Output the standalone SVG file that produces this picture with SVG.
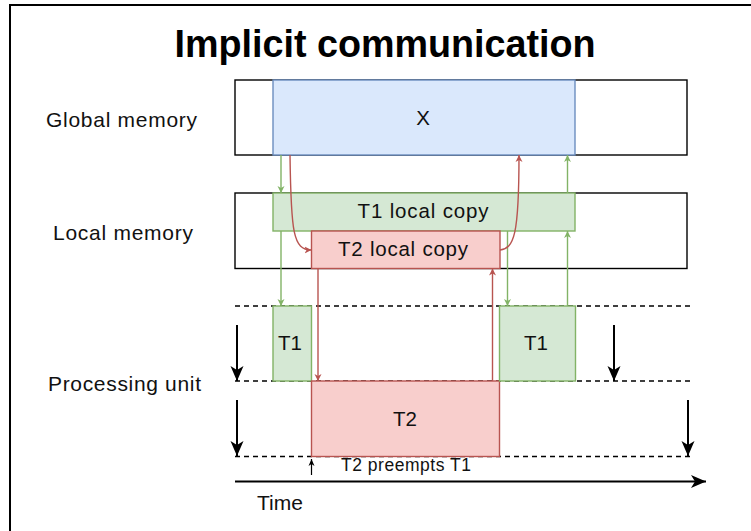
<svg xmlns="http://www.w3.org/2000/svg" width="751" height="531" viewBox="0 0 751 531">
  <style>
    text { font-family: "Liberation Sans", Arial, sans-serif; fill: #111; }
    .title { font-size: 38px; font-weight: bold; text-anchor: middle; fill: #000; }
    .side { font-size: 21px; }
    .box-label { font-size: 20.5px; text-anchor: middle; }
    .note { font-size: 17.5px; }
    .frame { fill: none; stroke: #000; stroke-width: 1.4; }
    .mem { fill: #dae8fc; stroke: #6c8ebf; stroke-width: 1.4; }
    .green { fill: #d5e8d4; stroke: #82b366; stroke-width: 1.4; }
    .red { fill: #f8cecc; stroke: #b85450; stroke-width: 1.4; }
    .lane { stroke: #000; stroke-width: 1.3; stroke-dasharray: 5 4; fill: none; }
    .g-edge { stroke: #82b366; stroke-width: 1.4; fill: none; marker-end: url(#head-green); }
    .r-edge { stroke: #b85450; stroke-width: 1.4; fill: none; marker-end: url(#head-red); }
    .k-edge { stroke: #000; stroke-width: 2; fill: none; marker-end: url(#head-black); }
    .k-thin { stroke: #000; stroke-width: 1.2; fill: none; marker-end: url(#head-black-small); }
  </style>
  <defs>
    <marker id="head-green" markerUnits="userSpaceOnUse" markerWidth="8" markerHeight="8" viewBox="0 0 8 8" refX="7" refY="4" orient="auto">
      <path d="M7,4 L0,0.5 L2,4 L0,7.5 Z" fill="#82b366"/>
    </marker>
    <marker id="head-red" markerUnits="userSpaceOnUse" markerWidth="8" markerHeight="8" viewBox="0 0 8 8" refX="7" refY="4" orient="auto">
      <path d="M7,4 L0,0.5 L2,4 L0,7.5 Z" fill="#b85450"/>
    </marker>
    <marker id="head-black" markerUnits="userSpaceOnUse" markerWidth="16" markerHeight="14" viewBox="0 0 16 14" refX="15" refY="7" orient="auto">
      <path d="M15,7 L0,0.5 L4,7 L0,13.5 Z" fill="#000"/>
    </marker>
    <marker id="head-black-small" markerUnits="userSpaceOnUse" markerWidth="8" markerHeight="8" viewBox="0 0 8 8" refX="7" refY="4" orient="auto">
      <path d="M7,4 L0,1 L2,4 L0,7 Z" fill="#000"/>
    </marker>
  </defs>

  <rect x="0" y="0" width="751" height="531" fill="#fff"/>
  <!-- outer frame -->
  <rect x="10" y="5" width="800" height="600" fill="none" stroke="#000" stroke-width="2"/>

  <g id="title">
    <text class="title" x="385" y="57" textLength="421" lengthAdjust="spacingAndGlyphs">Implicit communication</text>
  </g>

  <g id="row-labels">
    <text class="side" x="46" y="127" textLength="151" lengthAdjust="spacing">Global memory</text>
    <text class="side" x="53" y="240" textLength="140" lengthAdjust="spacing">Local memory</text>
    <text class="side" x="48" y="391" textLength="153" lengthAdjust="spacing">Processing unit</text>
  </g>

  <g id="global-memory">
    <rect class="frame" x="235" y="80" width="452" height="75"/>
  </g>
  <g id="shared-x">
    <rect class="mem" x="273" y="80" width="302" height="75"/>
    <text class="box-label" x="423" y="125">X</text>
  </g>

  <g id="local-memory">
    <rect class="frame" x="235" y="193" width="452" height="75.5"/>
  </g>
  <g id="t1-local-copy">
    <rect class="green" x="273" y="193" width="302" height="38"/>
    <text class="box-label" x="423" y="218" textLength="131" lengthAdjust="spacing">T1 local copy</text>
  </g>
  <g id="t2-local-copy">
    <rect class="red" x="311.5" y="231" width="188.5" height="37.5"/>
    <text class="box-label" x="403" y="256" textLength="130" lengthAdjust="spacing">T2 local copy</text>
  </g>

  <g id="lanes">
    <line class="lane" x1="235" y1="306" x2="694" y2="306"/>
    <line class="lane" x1="235" y1="381" x2="694" y2="381"/>
    <line class="lane" x1="235" y1="456.5" x2="694" y2="456.5"/>
  </g>

  <g id="t1-run-1">
    <rect class="green" x="273" y="306" width="38.5" height="75"/>
    <text class="box-label" x="290" y="350">T1</text>
  </g>
  <g id="t2-run">
    <rect class="red" x="311.5" y="381" width="188" height="75.5"/>
    <text class="box-label" x="405" y="426">T2</text>
  </g>
  <g id="t1-run-2">
    <rect class="green" x="499.5" y="306" width="76" height="75"/>
    <text class="box-label" x="536" y="350">T1</text>
  </g>

  <g id="timeline">
    <line class="k-edge" x1="235" y1="481.5" x2="706" y2="481.5"/>
    <text class="side" x="257" y="510">Time</text>
    <line class="k-thin" x1="311.5" y1="475" x2="311.5" y2="459"/>
    <text class="note" x="341" y="471" textLength="130" lengthAdjust="spacing">T2 preempts T1</text>
  </g>

  <g id="connectors">
    <!-- period markers -->
    <line class="k-edge" x1="237" y1="325" x2="237" y2="381"/>
    <line class="k-edge" x1="237" y1="400" x2="237" y2="456"/>
    <line class="k-edge" x1="614" y1="325" x2="614" y2="381"/>
    <line class="k-edge" x1="688" y1="400" x2="688" y2="456"/>

    <!-- T1 reads and writes -->
    <line class="g-edge" x1="281" y1="155" x2="281" y2="193"/>
    <line class="g-edge" x1="281" y1="231" x2="281" y2="306"/>
    <line class="g-edge" x1="507.5" y1="231" x2="507.5" y2="306"/>
    <line class="g-edge" x1="567.5" y1="306" x2="567.5" y2="231"/>
    <line class="g-edge" x1="567.5" y1="193" x2="567.5" y2="155"/>

    <!-- T2 reads and writes -->
    <path class="r-edge" d="M290,155 C291,232 293,250 311.5,250"/>
    <line class="r-edge" x1="318" y1="268.5" x2="318" y2="381"/>
    <line class="r-edge" x1="492.5" y1="381" x2="492.5" y2="268.5"/>
    <path class="r-edge" d="M500,250 C514,248 519,236 519,155"/>
  </g>
</svg>
